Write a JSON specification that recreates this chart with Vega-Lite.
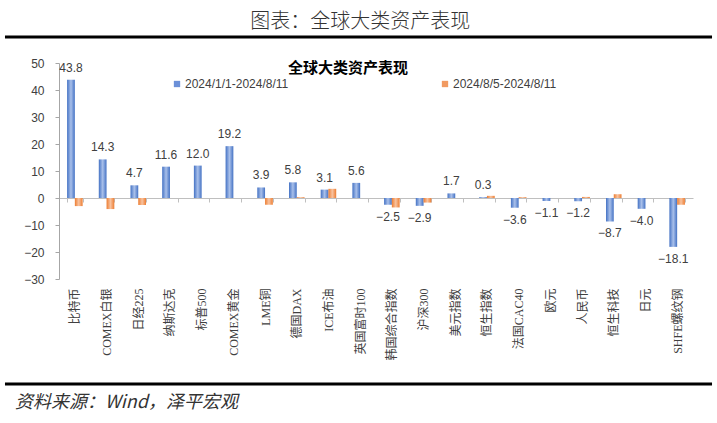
{
  "$schema": "https://vega.github.io/schema/vega-lite/v6.json",
  "width": 634,
  "height": 216,
  "autosize": {"type": "none"},
  "padding": {"left": 59, "top": 63, "right": 24, "bottom": 144},
  "background": "white",
  "config": {
    "view": {"stroke": null},
    "font": "Liberation Sans, Noto Sans CJK SC",
    "axisY": {
      "labelOverlap": false,
      "grid": false,
      "title": null,
      "domainColor": "#A6A6A6",
      "tickColor": "#A6A6A6",
      "tickSize": 4,
      "labelPadding": 11,
      "labelFontSize": 12,
      "labelColor": "#404040"
    }
  },
  "datasets": {
    "assets": [
      {"name": "比特币", "series": "2024/1/1-2024/8/11", "value": 43.8},
      {"name": "COMEX白银", "series": "2024/1/1-2024/8/11", "value": 14.3},
      {"name": "日经225", "series": "2024/1/1-2024/8/11", "value": 4.7},
      {"name": "纳斯达克", "series": "2024/1/1-2024/8/11", "value": 11.6},
      {"name": "标普500", "series": "2024/1/1-2024/8/11", "value": 12.0},
      {"name": "COMEX黄金", "series": "2024/1/1-2024/8/11", "value": 19.2},
      {"name": "LME铜", "series": "2024/1/1-2024/8/11", "value": 3.9},
      {"name": "德国DAX", "series": "2024/1/1-2024/8/11", "value": 5.8},
      {"name": "ICE布油", "series": "2024/1/1-2024/8/11", "value": 3.1},
      {"name": "英国富时100", "series": "2024/1/1-2024/8/11", "value": 5.6},
      {"name": "韩国综合指数", "series": "2024/1/1-2024/8/11", "value": -2.5},
      {"name": "沪深300", "series": "2024/1/1-2024/8/11", "value": -2.9},
      {"name": "美元指数", "series": "2024/1/1-2024/8/11", "value": 1.7},
      {"name": "恒生指数", "series": "2024/1/1-2024/8/11", "value": 0.3},
      {"name": "法国CAC40", "series": "2024/1/1-2024/8/11", "value": -3.6},
      {"name": "欧元", "series": "2024/1/1-2024/8/11", "value": -1.1},
      {"name": "人民币", "series": "2024/1/1-2024/8/11", "value": -1.2},
      {"name": "恒生科技", "series": "2024/1/1-2024/8/11", "value": -8.7},
      {"name": "日元", "series": "2024/1/1-2024/8/11", "value": -4.0},
      {"name": "SHFE螺纹钢", "series": "2024/1/1-2024/8/11", "value": -18.1},
      {"name": "比特币", "series": "2024/8/5-2024/8/11", "value": -3.0},
      {"name": "COMEX白银", "series": "2024/8/5-2024/8/11", "value": -4.1},
      {"name": "日经225", "series": "2024/8/5-2024/8/11", "value": -2.6},
      {"name": "纳斯达克", "series": "2024/8/5-2024/8/11", "value": 0.0},
      {"name": "标普500", "series": "2024/8/5-2024/8/11", "value": 0.0},
      {"name": "COMEX黄金", "series": "2024/8/5-2024/8/11", "value": 0.0},
      {"name": "LME铜", "series": "2024/8/5-2024/8/11", "value": -2.5},
      {"name": "德国DAX", "series": "2024/8/5-2024/8/11", "value": 0.3},
      {"name": "ICE布油", "series": "2024/8/5-2024/8/11", "value": 3.4},
      {"name": "英国富时100", "series": "2024/8/5-2024/8/11", "value": 0.0},
      {"name": "韩国综合指数", "series": "2024/8/5-2024/8/11", "value": -3.5},
      {"name": "沪深300", "series": "2024/8/5-2024/8/11", "value": -1.7},
      {"name": "美元指数", "series": "2024/8/5-2024/8/11", "value": 0.0},
      {"name": "恒生指数", "series": "2024/8/5-2024/8/11", "value": 0.8},
      {"name": "法国CAC40", "series": "2024/8/5-2024/8/11", "value": 0.3},
      {"name": "欧元", "series": "2024/8/5-2024/8/11", "value": 0.0},
      {"name": "人民币", "series": "2024/8/5-2024/8/11", "value": 0.4},
      {"name": "恒生科技", "series": "2024/8/5-2024/8/11", "value": 1.4},
      {"name": "日元", "series": "2024/8/5-2024/8/11", "value": 0.0},
      {"name": "SHFE螺纹钢", "series": "2024/8/5-2024/8/11", "value": -2.5}
    ]
  },
  "resolve": {"scale": {"x": "independent"}},
  "layer": [
    {
      "data": {"name": "assets"},
      "encoding": {
        "x": {
          "field": "name",
          "type": "nominal",
          "sort": null,
          "scale": {"paddingInner": 0.51, "paddingOuter": 0.255},
          "axis": {
            "orient": "bottom",
            "offset": -81,
            "title": null,
            "domainColor": "#BFBFBF",
            "tickColor": "#BFBFBF",
            "tickSize": 4,
            "tickBand": "extent",
            "labelAngle": -90,
            "labelAlign": "right",
            "labelBaseline": "middle",
            "labelPadding": 86,
            "labelFontSize": 12,
            "labelColor": "#404040",
            "labelFont": "Liberation Serif, Noto Sans CJK SC"
          }
        },
        "xOffset": {"field": "series", "type": "nominal", "sort": null},
        "y": {
          "field": "value",
          "type": "quantitative",
          "scale": {"domain": [-30, 50], "nice": false},
          "axis": {"values": [-30, -20, -10, 0, 10, 20, 30, 40, 50]}
        },
        "color": {
          "field": "series",
          "type": "nominal",
          "sort": null,
          "scale": {"range": ["#6B90D8", "#F19A61"]},
          "legend": {
            "orient": "none",
            "legendX": 112,
            "legendY": 15,
            "direction": "horizontal",
            "columns": 2,
            "columnPadding": 150,
            "title": null,
            "symbolType": "square",
            "symbolSize": 40,
            "labelFontSize": 12,
            "labelColor": "#404040",
            "labelOffset": 2
          }
        }
      },
      "layer": [
        {
          "transform": [{"filter": "datum.series === '2024/1/1-2024/8/11'"}],
          "mark": {"type": "bar", "fill": {"gradient": "linear", "x1": 0, "y1": 0, "x2": 1, "y2": 0, "stops": [{"offset": 0, "color": "#4472C4"}, {"offset": 0.5, "color": "#A9C0EA"}, {"offset": 1, "color": "#4472C4"}]}}
        },
        {
          "transform": [{"filter": "datum.series === '2024/8/5-2024/8/11'"}],
          "mark": {"type": "bar", "fill": {"gradient": "linear", "x1": 0, "y1": 0, "x2": 1, "y2": 0, "stops": [{"offset": 0, "color": "#ED7D31"}, {"offset": 0.5, "color": "#F8C3A0"}, {"offset": 1, "color": "#ED7D31"}]}}
        },
        {
          "transform": [{"filter": "datum.series === '2024/1/1-2024/8/11' && datum.value >= 0"}],
          "mark": {"type": "text", "baseline": "bottom", "dy": -5, "fontSize": 12, "fill": "#404040"},
          "encoding": {"text": {"field": "value", "type": "quantitative", "format": ".1f"}}
        },
        {
          "transform": [{"filter": "datum.series === '2024/1/1-2024/8/11' && datum.value < 0"}],
          "mark": {"type": "text", "baseline": "top", "dy": 7, "fontSize": 12, "fill": "#404040"},
          "encoding": {"text": {"field": "value", "type": "quantitative", "format": ".1f"}}
        }
      ]
    },
    {
      "data": {"values": [{}]},
      "mark": {"type": "rule", "color": "#000000", "strokeWidth": 3},
      "encoding": {
        "x": {"datum": -0.0852, "type": "quantitative", "scale": {"domain": [0, 1]}, "axis": null},
        "x2": {"datum": 1.03},
        "y": {"datum": 59.6, "type": "quantitative", "scale": {"domain": [-30, 50]}, "axis": {"values": [-30, -20, -10, 0, 10, 20, 30, 40, 50]}}
      }
    },
    {
      "data": {"values": [{}]},
      "mark": {"type": "rule", "color": "#000000", "strokeWidth": 3},
      "encoding": {
        "x": {"datum": -0.0852, "type": "quantitative", "scale": {"domain": [0, 1]}, "axis": null},
        "x2": {"datum": 1.03},
        "y": {"datum": -68.9, "type": "quantitative", "scale": {"domain": [-30, 50]}, "axis": {"values": [-30, -20, -10, 0, 10, 20, 30, 40, 50]}}
      }
    },
    {
      "data": {"values": [{}]},
      "mark": {"type": "text", "text": "图表：全球大类资产表现", "font": "Noto Sans CJK SC", "fontSize": 20, "fontWeight": 300, "color": "#333333", "align": "center", "baseline": "middle"},
      "encoding": {
        "x": {"datum": 0.475, "type": "quantitative", "scale": {"domain": [0, 1]}, "axis": null},
        "y": {"datum": 65.2, "type": "quantitative", "scale": {"domain": [-30, 50]}, "axis": {"values": [-30, -20, -10, 0, 10, 20, 30, 40, 50]}}
      }
    },
    {
      "data": {"values": [{}]},
      "mark": {"type": "text", "text": "全球大类资产表现", "font": "Noto Sans CJK SC", "fontSize": 15, "fontWeight": "bold", "color": "#000000", "align": "center", "baseline": "middle"},
      "encoding": {
        "x": {"datum": 0.456, "type": "quantitative", "scale": {"domain": [0, 1]}, "axis": null},
        "y": {"datum": 48.1, "type": "quantitative", "scale": {"domain": [-30, 50]}, "axis": {"values": [-30, -20, -10, 0, 10, 20, 30, 40, 50]}}
      }
    },
    {
      "data": {"values": [{}]},
      "mark": {"type": "text", "text": "资料来源：Wind，泽平宏观", "font": "Noto Sans CJK SC", "fontSize": 18, "fontStyle": "italic", "color": "#333333", "align": "left", "baseline": "middle"},
      "encoding": {
        "x": {"datum": -0.0694, "type": "quantitative", "scale": {"domain": [0, 1]}, "axis": null},
        "y": {"datum": -75.9, "type": "quantitative", "scale": {"domain": [-30, 50]}, "axis": {"values": [-30, -20, -10, 0, 10, 20, 30, 40, 50]}}
      }
    }
  ]
}
